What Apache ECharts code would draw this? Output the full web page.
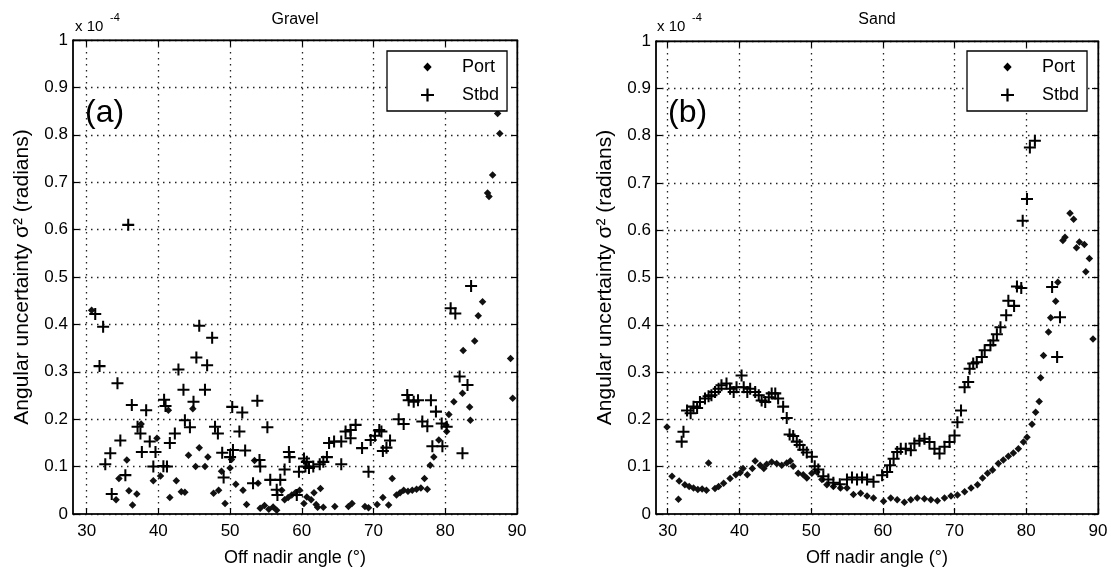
<!DOCTYPE html>
<html><head><meta charset="utf-8">
<script src="https://cdn.jsdelivr.net/npm/echarts@6/dist/echarts.min.js"></script>
<style>html,body{margin:0;padding:0;background:#fff}#c{width:1111px;height:574px}</style>
</head><body><div id="c"></div>
<script>
const xTicks = [30, 40, 50, 60, 70, 80, 90];
const panelTitles = ['Gravel', 'Sand'];
const panelTags = ['(a)', '(b)'];
const seriesNames = ['Port', 'Stbd'];

const gravelPort = [[30.7,0.43],[34.1,0.03],[34.5,0.075],[35.6,0.114],[35.9,0.049],[36.4,0.019],[37.0,0.042],[37.6,0.19],[39.3,0.07],[39.8,0.16],[40.3,0.08],[41.4,0.219],[41.6,0.035],[42.5,0.07],[43.2,0.047],[43.7,0.046],[44.2,0.124],[44.8,0.222],[45.2,0.10],[45.7,0.14],[46.5,0.10],[46.9,0.12],[47.7,0.044],[48.4,0.05],[48.8,0.09],[49.3,0.022],[50.0,0.097],[50.2,0.115],[50.8,0.063],[51.8,0.05],[52.3,0.02],[53.4,0.113],[53.9,0.065],[54.2,0.012],[54.8,0.018],[55.4,0.01],[56.0,0.015],[56.5,0.008],[57.2,0.05],[57.6,0.03],[58.1,0.035],[58.6,0.04],[59.1,0.045],[59.7,0.05],[60.3,0.022],[60.7,0.036],[61.3,0.03],[61.7,0.045],[62.0,0.02],[62.2,0.014],[62.6,0.054],[63.0,0.014],[64.6,0.016],[66.5,0.016],[67.0,0.022],[68.8,0.016],[69.3,0.013],[70.5,0.02],[71.3,0.035],[72.1,0.019],[72.6,0.075],[73.2,0.04],[73.7,0.045],[74.2,0.05],[74.8,0.048],[75.4,0.05],[76.0,0.052],[76.6,0.055],[77.1,0.075],[77.5,0.052],[77.9,0.103],[78.4,0.12],[79.1,0.156],[80.1,0.188],[80.2,0.174],[80.5,0.21],[81.2,0.237],[82.4,0.255],[82.5,0.345],[83.4,0.226],[83.5,0.198],[84.1,0.365],[84.6,0.418],[85.2,0.448],[85.9,0.677],[86.1,0.67],[86.6,0.715],[87.3,0.845],[87.6,0.803],[89.1,0.328],[89.4,0.244]];

const gravelStbd = [[31.2,0.422],[31.8,0.312],[32.3,0.395],[32.6,0.105],[33.3,0.128],[33.5,0.042],[34.3,0.276],[34.7,0.155],[35.4,0.082],[35.8,0.61],[36.3,0.23],[37.1,0.184],[37.5,0.17],[37.7,0.131],[38.3,0.219],[38.8,0.153],[39.3,0.10],[39.6,0.131],[40.7,0.101],[40.8,0.241],[41.0,0.228],[41.2,0.10],[41.6,0.15],[42.3,0.17],[42.8,0.305],[43.5,0.262],[43.7,0.198],[44.4,0.183],[44.9,0.237],[45.3,0.33],[45.7,0.397],[46.5,0.262],[46.8,0.314],[47.5,0.372],[47.9,0.184],[48.3,0.17],[48.9,0.129],[49.1,0.077],[50.0,0.12],[50.3,0.226],[50.4,0.135],[51.3,0.174],[51.7,0.214],[52.1,0.134],[53.2,0.065],[53.8,0.239],[54.1,0.114],[54.2,0.10],[55.2,0.183],[55.6,0.072],[56.5,0.051],[56.6,0.04],[57.0,0.072],[57.6,0.094],[58.2,0.131],[58.3,0.12],[59.3,0.04],[59.6,0.089],[60.3,0.117],[60.5,0.10],[60.7,0.11],[61.0,0.097],[61.6,0.10],[62.5,0.105],[63.0,0.11],[63.5,0.12],[63.8,0.15],[64.5,0.153],[65.5,0.153],[65.5,0.105],[66.1,0.174],[66.8,0.177],[66.8,0.16],[67.5,0.188],[68.4,0.139],[69.3,0.089],[69.6,0.156],[70.2,0.165],[70.8,0.177],[71.1,0.174],[71.3,0.133],[71.8,0.14],[72.3,0.155],[73.5,0.20],[74.2,0.19],[74.7,0.251],[74.9,0.24],[75.6,0.237],[76.2,0.24],[76.8,0.195],[77.5,0.185],[78.0,0.24],[78.2,0.143],[78.7,0.216],[79.5,0.191],[79.6,0.143],[80.2,0.184],[80.75,0.434],[81.4,0.423],[82.0,0.29],[82.4,0.128],[83.1,0.272],[83.6,0.481]];

const sandPort = [[29.9,0.184],[30.6,0.08],[31.5,0.031],[31.6,0.07],[32.4,0.062],[33.0,0.058],[33.6,0.055],[34.2,0.052],[34.8,0.053],[35.4,0.05],[35.7,0.108],[36.6,0.054],[37.1,0.058],[37.8,0.065],[38.7,0.075],[39.5,0.083],[40.1,0.087],[40.5,0.096],[41.1,0.083],[41.8,0.096],[42.2,0.112],[42.9,0.103],[43.4,0.096],[43.8,0.105],[44.5,0.11],[45.2,0.107],[45.9,0.103],[46.6,0.108],[47.1,0.112],[47.5,0.101],[48.2,0.086],[48.9,0.083],[49.4,0.076],[50.1,0.086],[50.8,0.089],[51.5,0.073],[52.2,0.062],[53.1,0.058],[54.1,0.055],[55.0,0.055],[55.9,0.041],[56.9,0.044],[57.8,0.038],[58.7,0.034],[60.1,0.027],[61.1,0.034],[62.0,0.03],[63.0,0.025],[63.9,0.03],[64.8,0.034],[65.8,0.032],[66.7,0.03],[67.6,0.028],[68.6,0.034],[69.5,0.038],[70.4,0.04],[71.4,0.047],[72.3,0.055],[73.2,0.062],[73.9,0.076],[74.6,0.086],[75.3,0.093],[76.1,0.107],[76.8,0.114],[77.5,0.122],[78.2,0.129],[78.9,0.138],[79.6,0.152],[80.1,0.162],[80.8,0.19],[81.3,0.215],[81.8,0.238],[82.0,0.288],[82.4,0.335],[83.1,0.385],[83.4,0.415],[84.1,0.45],[84.4,0.49],[85.1,0.578],[85.4,0.585],[86.1,0.636],[86.6,0.623],[87.0,0.563],[87.4,0.575],[88.1,0.57],[88.3,0.512],[88.8,0.54],[89.3,0.37]];

const sandStbd = [[31.95,0.153],[32.2,0.174],[32.7,0.219],[33.2,0.213],[33.6,0.227],[34.1,0.224],[34.5,0.237],[35.2,0.244],[35.7,0.249],[36.1,0.251],[36.6,0.258],[37.1,0.265],[37.5,0.272],[38.2,0.276],[38.7,0.265],[39.2,0.258],[39.6,0.268],[40.3,0.293],[40.6,0.268],[41.1,0.258],[41.5,0.265],[42.2,0.258],[42.7,0.251],[43.1,0.24],[43.6,0.237],[44.1,0.247],[44.5,0.255],[45.0,0.255],[45.4,0.244],[46.1,0.227],[46.6,0.203],[47.0,0.168],[47.5,0.165],[48.0,0.153],[48.4,0.146],[48.9,0.136],[49.4,0.13],[50.1,0.121],[50.5,0.101],[51.0,0.094],[51.7,0.08],[52.4,0.073],[53.1,0.066],[54.0,0.063],[55.0,0.073],[55.7,0.077],[56.4,0.073],[57.1,0.077],[57.8,0.073],[58.7,0.068],[59.9,0.082],[60.6,0.089],[61.0,0.103],[61.5,0.117],[62.0,0.131],[62.5,0.138],[63.2,0.138],[63.9,0.135],[64.4,0.149],[65.1,0.155],[65.8,0.159],[66.5,0.152],[67.2,0.138],[67.9,0.128],[68.6,0.142],[69.3,0.152],[70.0,0.166],[70.4,0.194],[70.9,0.219],[71.4,0.268],[71.9,0.279],[72.1,0.307],[72.6,0.318],[73.1,0.321],[73.8,0.332],[74.2,0.346],[75.0,0.357],[75.4,0.367],[75.9,0.38],[76.4,0.395],[77.2,0.42],[77.5,0.451],[78.3,0.44],[78.7,0.481],[79.3,0.478],[79.5,0.62],[80.1,0.666],[80.5,0.775],[81.2,0.789],[83.6,0.48],[84.3,0.332],[84.7,0.416]];

const FONT = '"Liberation Sans", Arial, Helvetica, sans-serif';
const PLUS = 'path://M4.15,0H5.85V4.15H10V5.85H5.85V10H4.15V5.85H0V4.15H4.15Z';
const LEG_DIAMOND = 'path://M0,0M10,10M5,1.5L8.2,5L5,8.5L1.8,5Z';

const grids = [
  {left: 73, top: 40, width: 444, height: 474},
  {left: 656, top: 41, width: 442, height: 473}
];
const xMins = [28.1, 28.37];

const chart = echarts.init(document.getElementById('c'));

const xAxes = [], yAxes = [];
grids.forEach((g, i) => {
  xAxes.push({
    type: 'value', gridIndex: i, min: xMins[i], max: 90, position: 'bottom',
    axisLine: {show: true, onZero: false, lineStyle: {color: '#000', width: 1.6}},
    axisTick: {show: true, inside: true, length: 6, customValues: xTicks, lineStyle: {color: '#000', width: 1.2}},
    axisLabel: {customValues: xTicks, color: '#000', fontSize: 17, fontFamily: FONT, margin: 9},
    splitLine: {show: true, lineStyle: {color: '#222', type: [1.5, 4.5], width: 1.3}},
    name: 'Off nadir angle (°)', nameLocation: 'middle', nameGap: 35,
    nameTextStyle: {color: '#000', fontSize: 18, fontFamily: FONT}
  });
  xAxes.push({
    type: 'value', gridIndex: i, min: xMins[i], max: 90, position: 'top',
    axisLine: {show: true, onZero: false, lineStyle: {color: '#000', width: 1.4}},
    axisTick: {show: true, inside: true, length: 6, customValues: xTicks, lineStyle: {color: '#000', width: 1.2}},
    axisLabel: {show: false}, splitLine: {show: false}
  });
  yAxes.push({
    type: 'value', gridIndex: i, min: 0, max: 1, interval: 0.1, position: 'left',
    axisLine: {show: true, onZero: false, lineStyle: {color: '#000', width: 1.6}},
    axisTick: {show: true, inside: true, length: 6, lineStyle: {color: '#000', width: 1.2}},
    axisLabel: {color: '#000', fontSize: 17, fontFamily: FONT, margin: 5},
    splitLine: {show: true, lineStyle: {color: '#222', type: [1.5, 4.5], width: 1.3}},
    name: 'Angular uncertainty σ² (radians)', nameLocation: 'middle', nameGap: 40,
    nameTextStyle: {color: '#000', fontSize: 21, fontFamily: FONT}
  });
  yAxes.push({
    type: 'value', gridIndex: i, min: 0, max: 1, interval: 0.1, position: 'right',
    axisLine: {show: true, onZero: false, lineStyle: {color: '#000', width: 1.4}},
    axisTick: {show: true, inside: true, length: 6, lineStyle: {color: '#000', width: 1.2}},
    axisLabel: {show: false}, splitLine: {show: false}
  });
});

const panelData = [[gravelPort, gravelStbd], [sandPort, sandStbd]];
const series = [];
panelData.forEach((pd, i) => {
  series.push({
    name: seriesNames[0], type: 'scatter', xAxisIndex: 2 * i, yAxisIndex: 2 * i,
    data: pd[0], symbol: 'diamond', symbolSize: 7.5,
    itemStyle: {color: '#111', opacity: 1}, z: 3
  });
  series.push({
    name: seriesNames[1], type: 'scatter', xAxisIndex: 2 * i, yAxisIndex: 2 * i,
    data: pd[1], symbol: PLUS, symbolSize: 12,
    itemStyle: {color: '#000', opacity: 1}, z: 4
  });
});

const legendLefts = [387, 967];
const legends = legendLefts.map(l => ({
  orient: 'vertical', left: l, top: 51,
  data: [{name: seriesNames[0], icon: LEG_DIAMOND}, {name: seriesNames[1], icon: PLUS}],
  itemWidth: 13, itemHeight: 13, itemGap: 10,
  padding: [7, 8, 7, 34],
  backgroundColor: '#fff', borderColor: '#000', borderWidth: 1.3, borderRadius: 0,
  selectedMode: false,
  textStyle: {color: '#000', fontSize: 18, fontFamily: FONT, padding: [0, 0, 0, 23]},
  itemStyle: {color: '#000'}
}));

const titleX = [295, 877];
const tagX = [85, 668];
const expX = [75, 657];
const graphic = [];
[0, 1].forEach(i => {
  graphic.push({type: 'text', x: titleX[i], y: 12, style: {text: panelTitles[i], fill: '#000', font: '16px ' + FONT, textAlign: 'center'}});
  graphic.push({type: 'text', x: tagX[i], y: 97, style: {text: panelTags[i], fill: '#000', font: '32px ' + FONT}});
  graphic.push({type: 'text', x: expX[i], y: 19, style: {text: 'x 10', fill: '#000', font: '15px ' + FONT}});
  graphic.push({type: 'text', x: expX[i] + 35, y: 12, style: {text: '-4', fill: '#000', font: '11px ' + FONT}});
});

chart.setOption({
  backgroundColor: '#fff',
  animation: false,
  grid: grids.map(g => Object.assign({show: true, borderColor: '#000', borderWidth: 1, backgroundColor: 'transparent'}, g)),
  xAxis: xAxes, yAxis: yAxes, series, legend: legends, graphic
});
</script></body></html>
